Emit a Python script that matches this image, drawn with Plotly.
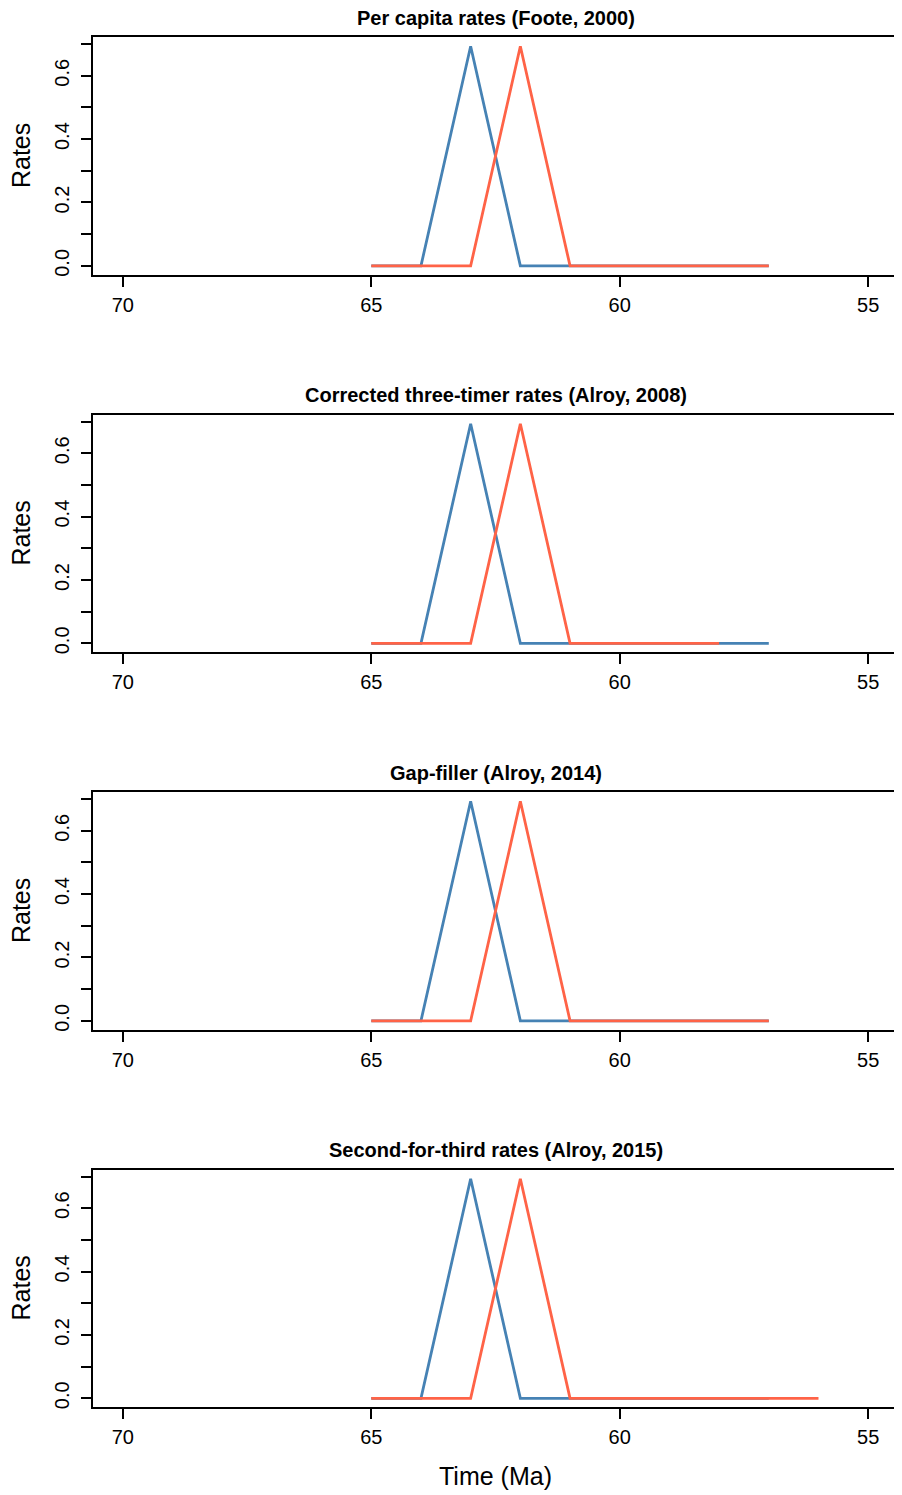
import plotly.graph_objects as go

# Time bins (Ma) and the rates
ages = [65, 64, 63, 62, 61, 60, 59, 58, 57, 56]

titles = [
    "Per capita rates (Foote, 2000)",
    "Corrected three-timer rates (Alroy, 2008)",
    "Gap-filler (Alroy, 2014)",
    "Second-for-third rates (Alroy, 2015)",
]

# blue series (peaks at 63 Ma)
blue_pc = [0, 0, 0.693, 0, 0, 0, 0, 0, 0]
blue_3t = [0, 0, 0.693, 0, 0, 0, 0, 0, 0]
blue_gf = [0, 0, 0.693, 0, 0, 0, 0, 0, 0]
blue_2f3 = [0, 0, 0.693, 0, 0, 0, 0, 0, 0]

# red series (peaks at 62 Ma)
red_pc = [0, 0, 0, 0.693, 0, 0, 0, 0, 0]
red_3t = [0, 0, 0, 0.693, 0, 0, 0, 0]
red_gf = [0, 0, 0, 0.693, 0, 0, 0, 0, 0]
red_2f3 = [0, 0, 0, 0.693, 0, 0, 0, 0, 0, 0]

blue_series = [blue_pc, blue_3t, blue_gf, blue_2f3]
red_series = [red_pc, red_3t, red_gf, red_2f3]

x_ticks = [70, 65, 60, 55]
y_ticks = [0, 0.1, 0.2, 0.3, 0.4, 0.5, 0.6, 0.7]
y_labels = ["0.0", "", "0.2", "", "0.4", "", "0.6", ""]

BLUE = "#4682B4"
RED = "#FF6347"
FONT = "Liberation Sans, Arial, Helvetica, sans-serif"

# the page adds an 8px body margin, so the figure is 8px smaller and
# everything is measured in window pixels minus that offset
OFF = 8
W, H = 902 - OFF, 1495 - OFF

# panel boxes in window pixels
LEFT, RIGHT = 93, 898
TOP0, BOT0, STEP = 37.5, 275, 378


def px_(p):
    return (p - OFF) / W


def py(p):
    return 1 - (p - OFF) / H


fig = go.Figure()
annotations = []
layout_axes = {}

for k in range(4):
    n = k + 1
    xa = "x" if n == 1 else f"x{n}"
    ya = "y" if n == 1 else f"y{n}"
    b = blue_series[k]
    r = red_series[k]
    fig.add_trace(go.Scatter(x=ages[:len(b)], y=b, mode="lines",
                             line=dict(color=BLUE, width=2.8),
                             xaxis=xa, yaxis=ya, showlegend=False))
    fig.add_trace(go.Scatter(x=ages[:len(r)], y=r, mode="lines",
                             line=dict(color=RED, width=2.8),
                             xaxis=xa, yaxis=ya, showlegend=False))

    top = TOP0 + STEP * k
    bot = BOT0 + STEP * k
    layout_axes["xaxis" if n == 1 else f"xaxis{n}"] = dict(
        domain=[px_(LEFT), min(px_(RIGHT), 1)], range=[70.6, 54.4], anchor=ya,
        tickvals=x_ticks, ticks="outside", ticklen=10, tickwidth=1.8,
        tickcolor="black", showline=True, mirror=True, linecolor="black",
        linewidth=2, showgrid=False, zeroline=False,
        tickfont=dict(size=20, color="black", family=FONT),
        ticklabelstandoff=1,
    )
    layout_axes["yaxis" if n == 1 else f"yaxis{n}"] = dict(
        domain=[py(bot), py(top)], range=[-0.0277, 0.7208], anchor=xa,
        tickvals=y_ticks, ticktext=y_labels, tickangle=-90,
        ticks="outside", ticklen=10, tickwidth=1.8, tickcolor="black",
        showline=True, mirror=True, linecolor="black", linewidth=2,
        showgrid=False, zeroline=False,
        tickfont=dict(size=20, color="black", family=FONT),
        ticklabelstandoff=4,
    )

    annotations.append(dict(
        text=f"<b>{titles[k]}</b>", x=px_((LEFT + RIGHT) / 2), y=py(18 + STEP * k),
        xref="paper", yref="paper", xanchor="center", yanchor="middle",
        showarrow=False, font=dict(size=20, color="black", family=FONT)))
    annotations.append(dict(
        text="Rates", x=px_(21), y=py((top + bot) / 2), textangle=-90,
        xref="paper", yref="paper", xanchor="center", yanchor="middle",
        showarrow=False, font=dict(size=25, color="black", family=FONT)))

annotations.append(dict(
    text="Time (Ma)", x=px_((LEFT + RIGHT) / 2), y=py(1478),
    xref="paper", yref="paper", xanchor="center", yanchor="middle",
    showarrow=False, font=dict(size=25, color="black", family=FONT)))

fig.update_layout(
    width=W, height=H,
    margin=dict(l=0, r=0, t=0, b=0),
    plot_bgcolor="white", paper_bgcolor="white",
    font=dict(family=FONT, color="black"),
    annotations=annotations,
    showlegend=False,
    **layout_axes,
)

fig.write_html("out.html")
